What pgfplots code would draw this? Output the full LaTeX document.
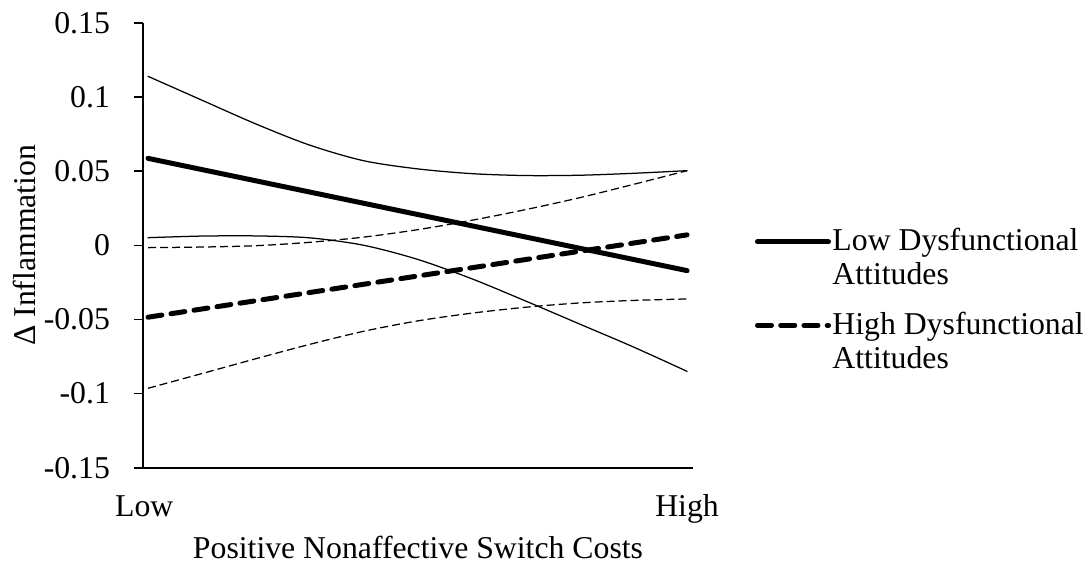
\documentclass[border=0pt]{standalone}
\usepackage{fontspec}
\setmainfont{Liberation Serif}
\usepackage{pgfplots}
\pgfplotsset{compat=1.18}
\begin{document}
\fontsize{12.7}{13.6}\selectfont
\begin{tikzpicture}
\useasboundingbox (-57.2pt,-38.9pt) rectangle (378.4pt,187.1pt);
\begin{axis}[
  at={(0pt,0pt)}, anchor=south west,
  scale only axis, width=220pt, height=178pt,
  font=\fontsize{12.7}{13.6}\selectfont,
  xmin=-0.0093, xmax=1.011, ymin=-0.15, ymax=0.15,
  axis lines*=left,
  axis line style={line width=0.6pt},
  xtick={0,1}, xticklabels={\hspace*{-3pt}Low,High},
  major x tick style={draw=none},
  xticklabel style={anchor=base, yshift=-16pt},
  ytick={-0.15,-0.1,-0.05,0,0.05,0.1,0.15},
  yticklabels={-0.15,-0.1,-0.05,0,0.05,0.1,0.15},
  tick align=outside, major tick length=3.6pt,
  major y tick style={line width=0.6pt, black},
  yticklabel style={anchor=east, xshift=-5.2pt},
  xlabel={Positive Nonaffective Switch Costs},
  xlabel style={at={(axis description cs:0.5,-0.203)}, anchor=base},
  ylabel={Δ Inflammation},
  ylabel style={at={(axis description cs:-0.216,0.5)}, anchor=center},
  clip=false,
  legend style={draw=none, fill=none, inner sep=0pt, outer sep=0pt,
    at={(axis description cs:1.1127,0.538)}, anchor=north west,
    nodes={inner sep=0pt, outer sep=0pt}, row sep=22.5pt, column sep=0.6pt},
  legend cell align=left,
  legend image code/.code={\draw[#1] (0pt,0pt) -- (28.4pt,0pt);},
  every axis plot/.append style={black, line cap=round},
]
\addplot[line width=2pt] coordinates {(0,0.0586) (1,-0.0171)};
\addlegendentry{\parbox[t]{110pt}{Low Dysfunctional\\Attitudes}}
\addplot[line width=2pt, dash pattern=on 5.6pt off 3.7pt] coordinates {(0,-0.0485) (1,0.0070)};
\addlegendentry{\parbox[t]{110pt}{High Dysfunctional\\Attitudes}}
% Low dysfunctional attitudes, confidence band
\addplot[line width=0.5pt, smooth, forget plot] coordinates {
(0,0.1139) (0.1,0.0978) (0.2,0.0818) (0.3,0.0675) (0.4,0.0570) (0.5,0.0515) (0.6,0.0483) (0.7,0.0470) (0.8,0.0472) (0.9,0.0485) (1,0.0503)};
\addplot[line width=0.5pt, smooth, forget plot] coordinates {
(0,0.0051) (0.1,0.0062) (0.2,0.0063) (0.3,0.0050) (0.4,0.0000) (0.5,-0.0095) (0.6,-0.0225) (0.7,-0.0375) (0.8,-0.0530) (0.9,-0.0685) (1,-0.0850)};
% High dysfunctional attitudes, confidence band
\addplot[line width=0.5pt, smooth, line cap=butt, dash pattern=on 3.2pt off 1.6pt, forget plot] coordinates {
(0,-0.0016) (0.1,-0.0012) (0.2,-0.0003) (0.3,0.0020) (0.4,0.0055) (0.5,0.0105) (0.6,0.0168) (0.7,0.0240) (0.8,0.0320) (0.9,0.0410) (1,0.0503)};
\addplot[line width=0.5pt, smooth, line cap=butt, dash pattern=on 3.2pt off 1.6pt, forget plot] coordinates {
(0,-0.0964) (0.1,-0.0865) (0.2,-0.0765) (0.3,-0.0668) (0.4,-0.0580) (0.5,-0.0510) (0.6,-0.0458) (0.7,-0.0418) (0.8,-0.0389) (0.9,-0.0372) (1,-0.0362)};
\end{axis}
\end{tikzpicture}
\end{document}
